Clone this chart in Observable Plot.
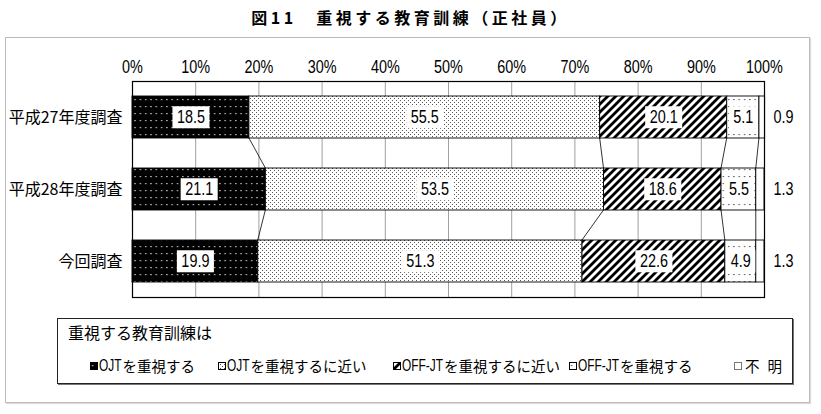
<!DOCTYPE html>
<html><head><meta charset="utf-8">
<script src="https://cdn.jsdelivr.net/npm/d3@7"></script>
<script src="https://cdn.jsdelivr.net/npm/@observablehq/plot@0.6"></script>
<style>
body{margin:0;background:#fff;width:821px;height:414px;position:relative;overflow:hidden;font-family:"Noto Sans CJK JP",sans-serif;color:#000;}
#title{position:absolute;top:5px;left:0;width:821px;text-align:center;font-size:16px;font-weight:bold;letter-spacing:3.5px;}
#frame{position:absolute;left:5px;top:37px;width:803px;height:364px;border:1.5px solid #bbb;box-shadow:1px 1px 1px #ddd;}
#chart{position:absolute;left:0;top:40px;}
#legend{position:absolute;left:57px;top:318px;width:734px;height:64px;border:1.5px solid #222;box-shadow:1px 1px 0 #777;}
#legend .lt{position:absolute;left:10px;top:1px;font-size:16px;}
#legend .it{position:absolute;top:36px;font-size:14.5px;white-space:nowrap;display:flex;align-items:center;}
#legend .it svg{margin-right:1px;}
#legend .lat{display:inline-block;font-family:"Liberation Sans",sans-serif;font-size:17px;transform:scaleX(0.7);transform-origin:left center;}
#legend .sp{letter-spacing:8px;margin-left:2px;}
</style>
</head><body>
<div id="title">図11　重視する教育訓練（正社員）</div>
<div id="frame"></div>
<div id="chart"></div>
<div id="legend"></div>
<script>
const surveys = ["平成27年度調査", "平成28年度調査", "今回調査"];
const categories = ["OJTを重視する", "OJTを重視するに近い", "OFF-JTを重視するに近い", "OFF-JTを重視する", "不明"];
const legendLatin = ["OJT", "OJT", "OFF-JT", "OFF-JT", ""];
const legendRest = ["を重視する", "を重視するに近い", "を重視するに近い", "を重視する", "不明"];
const ojt = [18.5, 21.1, 19.9];
const nearOjt = [55.5, 53.5, 51.3];
const nearOff = [20.1, 18.6, 22.6];
const off = [5.1, 5.5, 4.9];
const unknown = [0.9, 1.3, 1.3];
const xTicks = [0, 10, 20, 30, 40, 50, 60, 70, 80, 90, 100];
const legendTitle = "重視する教育訓練は";

const series = [ojt, nearOjt, nearOff, off, unknown];
const patternIds = ["pat0", "pat1", "pat2", "pat3", "pat4"];
const rows = [];
surveys.forEach((s, i) => {
  let cum = 0;
  categories.forEach((c, k) => {
    const v = series[k][i];
    rows.push({survey: s, cat: c, value: v, x1: cum, x2: cum + v, idx: i, k});
    cum += v;
  });
});

const NUMF = '"Liberation Sans",Arial,sans-serif';
const CJK = '"Noto Sans CJK JP",sans-serif';

function connectors(index, scales, values, dimensions) {
  const g = d3.create("svg:g");
  const y = scales.y, x = scales.x;
  const bw = y.bandwidth ? y.bandwidth() : 42;
  for (let i = 0; i < surveys.length - 1; i++) {
    for (let k = 0; k < categories.length - 1; k++) {
      const a = rows.find(d => d.idx === i && d.k === k);
      const b = rows.find(d => d.idx === i + 1 && d.k === k);
      g.append("line")
        .attr("x1", x(a.x2)).attr("y1", y(surveys[i]) + bw)
        .attr("x2", x(b.x2)).attr("y2", y(surveys[i + 1]))
        .attr("stroke", "#000").attr("stroke-width", 0.8);
    }
  }
  return g.node();
}

const svg = Plot.plot({
  width: 821,
  height: 259,
  marginLeft: 132,
  marginRight: 57,
  marginTop: 41,
  marginBottom: 2,
  style: {background: "transparent", fontFamily: CJK},
  x: {domain: [0, 100]},
  y: {domain: surveys, paddingInner: 0.417, paddingOuter: 0.208},
  color: {domain: categories, range: patternIds.map(id => `url(#${id})`)},
  marks: [
    Plot.ruleX(xTicks.filter(t => t > 0 && t < 100), {stroke: "#888", strokeWidth: 0.8}),
    Plot.barX(rows, {y: "survey", x1: "x1", x2: "x2", fill: "cat", stroke: "#000", strokeWidth: 0.9}),
    connectors,
    Plot.text(rows.filter(d => d.k < 4), {y: "survey", x: d => (d.x1 + d.x2) / 2, text: d => d.value.toFixed(1), fontSize: 18, fontFamily: NUMF, fill: "#000", className: "vlabel"}),
    Plot.text(rows.filter(d => d.k === 4), {y: "survey", frameAnchor: "right", dx: 19, textAnchor: "middle", text: d => d.value.toFixed(1), fontSize: 18, fontFamily: NUMF, fill: "#000", className: "rlabel"}),
    Plot.frame({stroke: "#000", strokeWidth: 1.2}),
    Plot.axisX({anchor: "top", ticks: xTicks, tickFormat: d => d + "%", tickSize: 0, tickPadding: 9, fontSize: 18, fontFamily: NUMF, label: null, className: "xax"}),
    Plot.axisY({tickSize: 0, tickPadding: 10, fontSize: 16, fontFamily: CJK, label: null, letterSpacing: 1.5})
  ]
});

// pattern definitions
const defs = d3.select(svg).insert("defs", ":first-child");
{
  const p0 = defs.append("pattern").attr("id", "pat0").attr("patternUnits", "userSpaceOnUse").attr("width", 5.3).attr("height", 7);
  p0.append("rect").attr("width", 5.3).attr("height", 7).attr("fill", "#000");
  p0.append("rect").attr("x", 2).attr("y", 3).attr("width", 1.2).attr("height", 1.2).attr("fill", "#e8e8e8");
  const p1 = defs.append("pattern").attr("id", "pat1").attr("patternUnits", "userSpaceOnUse").attr("width", 4).attr("height", 4);
  p1.append("rect").attr("width", 4).attr("height", 4).attr("fill", "#fff");
  p1.append("rect").attr("x", 0).attr("y", 0).attr("width", 1).attr("height", 1).attr("fill", "#555");
  p1.append("rect").attr("x", 2).attr("y", 2).attr("width", 1).attr("height", 1).attr("fill", "#555");
  const p2 = defs.append("pattern").attr("id", "pat2").attr("patternUnits", "userSpaceOnUse").attr("width", 8).attr("height", 8);
  p2.append("rect").attr("width", 8).attr("height", 8).attr("fill", "#fff");
  p2.append("path").attr("d", "M-2,10 L10,-2 M-2,2 L2,-2 M6,10 L10,6").attr("stroke", "#000").attr("stroke-width", 2.8);
  const p3 = defs.append("pattern").attr("id", "pat3").attr("patternUnits", "userSpaceOnUse").attr("width", 5.3).attr("height", 7);
  p3.append("rect").attr("width", 5.3).attr("height", 7).attr("fill", "#fff");
  p3.append("rect").attr("x", 2).attr("y", 3).attr("width", 1.1).attr("height", 1.1).attr("fill", "#222");
  const p4 = defs.append("pattern").attr("id", "pat4").attr("patternUnits", "userSpaceOnUse").attr("width", 4).attr("height", 4);
  p4.append("rect").attr("width", 4).attr("height", 4).attr("fill", "#fff");
}

document.getElementById("chart").appendChild(svg);

// condense numeric text (narrow face look)
d3.select(svg).selectAll("g.vlabel text, g.rlabel text, g.xax text").each(function() {
  const len = this.getComputedTextLength();
  if (len > 0) {
    this.setAttribute("textLength", (len * 0.8).toFixed(2));
    this.setAttribute("lengthAdjust", "spacingAndGlyphs");
  }
});

// white label boxes behind values
d3.select(svg).selectAll("g.vlabel text").each(function() {
  const bb = this.getBBox();
  const padX = 4.5;
  const rect = document.createElementNS("http://www.w3.org/2000/svg", "rect");
  rect.setAttribute("x", bb.x - padX);
  rect.setAttribute("y", bb.y + bb.height / 2 - 11);
  rect.setAttribute("width", bb.width + 2 * padX);
  rect.setAttribute("height", 22);
  rect.setAttribute("fill", "#fff");
  const tr = this.getAttribute("transform");
  if (tr) rect.setAttribute("transform", tr);
  this.parentNode.insertBefore(rect, this);
});

// legend
const legend = d3.select("#legend");
legend.append("div").attr("class", "lt").text(legendTitle);
const legendX = [32, 160, 335, 511, 676];
categories.forEach((c, k) => {
  const it = legend.append("div").attr("class", "it").style("left", legendX[k] + "px");
  const s = it.append("svg").attr("width", 8).attr("height", 8);
  s.append("rect").attr("x", 0.5).attr("y", 0.5).attr("width", 7).attr("height", 7)
    .attr("fill", `url(#${patternIds[k]})`).attr("stroke", k === 4 ? "#777" : "#000").attr("stroke-width", 1);
  if (legendLatin[k]) it.append("span").attr("class", "lat").text(legendLatin[k]);
  it.append("span").attr("class", legendLatin[k] ? null : "sp").text(legendRest[k]);
});
legend.selectAll("span.lat").each(function() {
  const w = this.getBoundingClientRect().width / 0.7;
  this.style.marginRight = (-(w * 0.3) + 1).toFixed(1) + "px";
});
</script>
</body></html>
